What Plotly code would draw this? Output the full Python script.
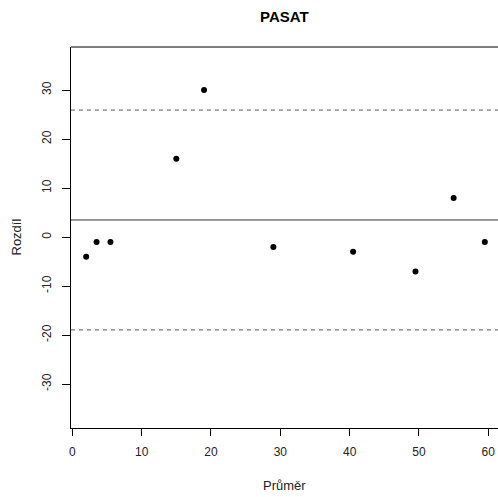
import plotly.graph_objects as go
import numpy as np

# Data
prumer = [2, 3.5, 5.5, 15, 19, 29, 40.5, 49.5, 55, 59.5]
rozdil = [-4, -1, -1, 16, 30, -2, -3, -7, 8, -1]
x_ticks = [0, 10, 20, 30, 40, 50, 60]
y_ticks = [-30, -20, -10, 0, 10, 20, 30]
y_tick_labels = ["-30", "-20", "-10", "0", "10", "20", "30"]
title_text = "PASAT"
x_label = "Průměr"
y_label = "Rozdíl"

mean_d = float(np.mean(rozdil))
sd_d = float(np.std(rozdil, ddof=1))
upper = mean_d + 1.96 * sd_d
lower = mean_d - 1.96 * sd_d

FONT = "Liberation Sans, Arial, sans-serif"

fig = go.Figure()
fig.add_trace(go.Scatter(
    x=prumer, y=rozdil, mode="markers",
    marker=dict(color="black", size=6, line=dict(width=0)),
    showlegend=False, hoverinfo="x+y"))

shapes = [
    dict(type="line", xref="paper", x0=0, x1=1, yref="y", y0=mean_d, y1=mean_d,
         line=dict(color="#333333", width=1)),
    dict(type="line", xref="paper", x0=0, x1=1, yref="y", y0=upper, y1=upper,
         line=dict(color="#555555", width=1, dash="4px,4px")),
    dict(type="line", xref="paper", x0=0, x1=1, yref="y", y0=lower, y1=lower,
         line=dict(color="#555555", width=1, dash="4px,4px")),
    dict(type="line", xref="paper", x0=0, x1=1, yref="paper", y0=1, y1=1,
         line=dict(color="black", width=1)),
]

annotations = [
    dict(text=f"<b>{title_text}</b>", xref="paper", yref="paper", x=0.5, y=1,
         yshift=31, showarrow=False, yanchor="middle", xanchor="center",
         font=dict(family=FONT, size=15, color="black")),
    dict(text=x_label, xref="paper", yref="paper", x=0.5, y=0, yshift=-57,
         showarrow=False, yanchor="middle", xanchor="center",
         font=dict(family=FONT, size=13, color="#222222")),
    dict(text=y_label, xref="paper", yref="paper", x=0, y=0.5, xshift=-55,
         showarrow=False, yanchor="middle", xanchor="center", textangle=-90,
         font=dict(family=FONT, size=13, color="#222222")),
]

fig.update_layout(
    width=498, height=497,
    margin=dict(l=71, r=0, t=47, b=69),
    paper_bgcolor="white", plot_bgcolor="white",
    shapes=shapes, annotations=annotations,
    xaxis=dict(range=[-0.19, 61.4], tickvals=x_ticks, ticks="outside", ticklen=7,
               tickcolor="black", showline=True, linecolor="black", linewidth=1,
               showgrid=False, zeroline=False, ticklabelstandoff=6,
               tickfont=dict(family=FONT, size=12, color="#222222")),
    yaxis=dict(range=[-38.95, 38.8], tickvals=y_ticks, ticktext=y_tick_labels,
               ticks="outside", ticklen=8,
               tickcolor="black", showline=True, linecolor="black", linewidth=1,
               showgrid=False, zeroline=False, tickangle=-90, ticklabelstandoff=6,
               tickfont=dict(family=FONT, size=12, color="#222222")),
)

fig.write_html("out.html")
